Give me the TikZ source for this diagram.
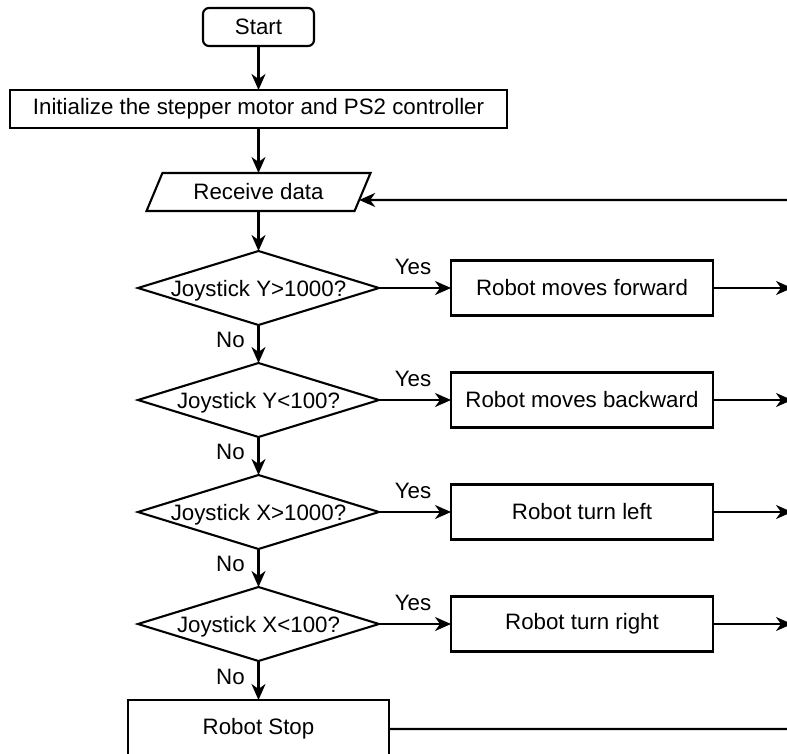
\documentclass[tikz,border=0pt]{standalone}
\usepackage{fontspec}
\setmainfont{Liberation Sans}
\usetikzlibrary{shapes.geometric,arrows.meta,calc}
\begin{document}
\begin{tikzpicture}[x=1pt,y=-1pt,
  font=\fontsize{22.3}{26}\selectfont,
  line width=2.1pt,
  every node/.style={inner sep=0pt, outer sep=0pt},
  arr/.style={-{Stealth[length=16pt,width=14pt,inset=5pt]}},
  proc/.style={draw, rectangle, minimum height=55pt, minimum width=262pt},
  dec/.style={draw, diamond, shape aspect=3.26, minimum width=241pt, minimum height=74pt, text height=17pt, text depth=1pt},
  lab/.style={}]
\useasboundingbox (0,0) rectangle (787,753);
\clip (0,0) rectangle (787,753);
\node[draw, rounded corners=6pt, minimum width=111pt, minimum height=38pt] (start) at (258.5,27) {Start};
\node[draw, minimum width=497pt, minimum height=38pt] (init) at (258.5,109) {Initialize the stepper motor and PS2 controller};
\node[draw, trapezium, trapezium left angle=45.8, trapezium right angle=134.2, trapezium stretches body, minimum width=224pt, minimum height=38pt] (recv) at (258.5,192) {Receive data};
\node[dec] (d1) at (258.5,288) {Joystick Y>1000?};
\node[dec] (d2) at (258.5,400) {Joystick Y<100?};
\node[dec] (d3) at (258.5,512) {Joystick X>1000?};
\node[dec] (d4) at (258.5,624) {Joystick X<100?};
\node[proc] (b1) at (582,288) {Robot moves forward};
\node[proc] (b2) at (582,400) {Robot moves backward};
\node[proc] (b3) at (582,512) {Robot turn left};
\node[proc] (b4) at (582,624) {Robot turn right};
\node[draw, minimum width=261pt, minimum height=58pt] (stop) at (258.5,729) {Robot Stop};
\coordinate (rin) at ($(recv.top right corner)!0.71!(recv.bottom right corner)$);
\coordinate (r1) at (792,288);
\coordinate (r2) at (792,400);
\coordinate (r3) at (792,512);
\coordinate (r4) at (792,624);
\coordinate (loopB) at (800,729);
\coordinate (loopT) at (800,200);
\draw[arr] (start) -- (init);
\draw[arr] (init) -- (recv);
\draw[arr] (recv) -- (d1);
\draw[arr] (d1) -- node[pos=0.4, xshift=-28pt, lab] {No} (d2);
\draw[arr] (d2) -- node[pos=0.4, xshift=-28pt, lab] {No} (d3);
\draw[arr] (d3) -- node[pos=0.4, xshift=-28pt, lab] {No} (d4);
\draw[arr] (d4) -- node[pos=0.4, xshift=-28pt, lab] {No} (stop);
\foreach \i in {1,2,3,4}{
  \draw[arr] (d\i.east) -- node[midway, yshift=21pt, xshift=-2pt, lab] {Yes} (b\i.west);
  \draw[arr] (b\i.east) -- (r\i);
}
\draw[arr] (stop.east) -- (loopB) -- (loopT) -- (rin);
\end{tikzpicture}
\end{document}
